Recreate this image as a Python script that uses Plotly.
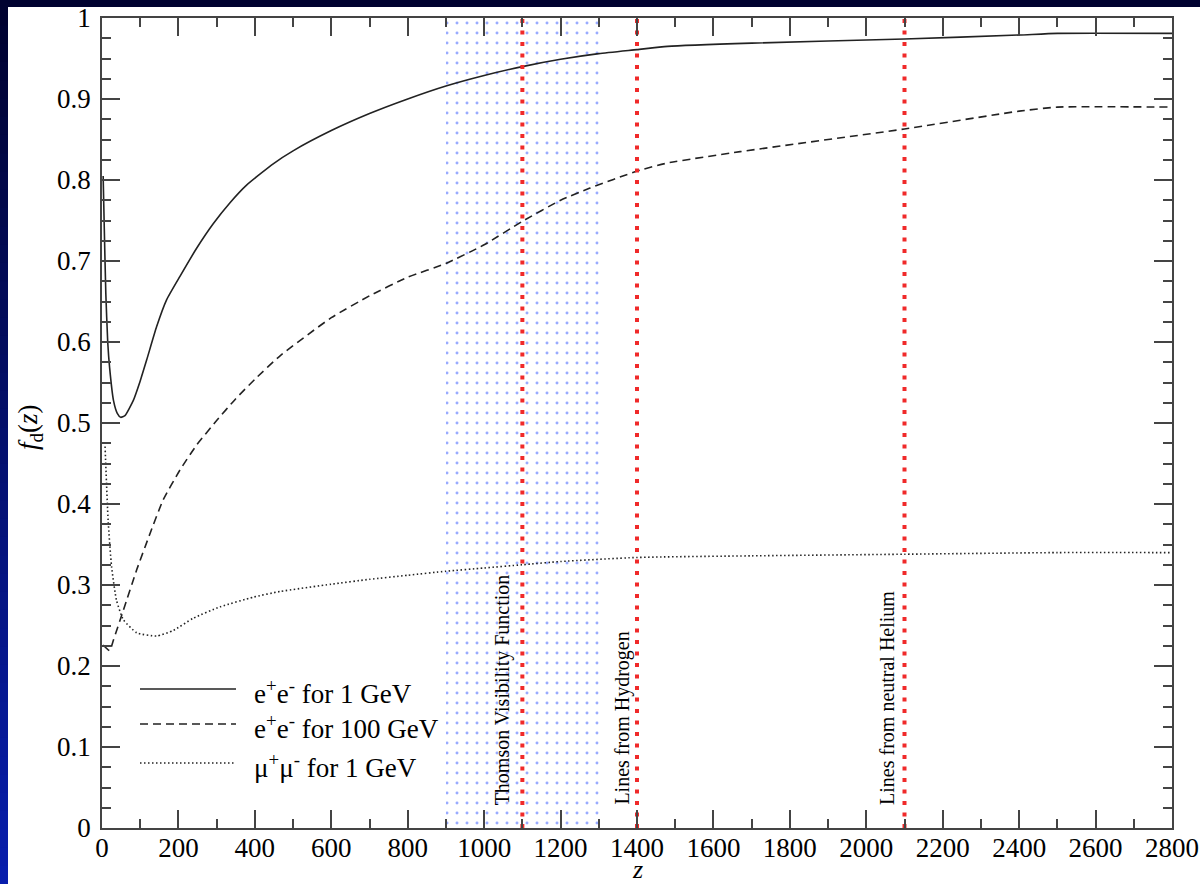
import plotly.graph_objects as go

# ---------------- data ----------------
z_ee1 = [3, 6, 10, 15, 20, 30, 40, 49, 60, 82, 100, 117, 143, 169, 204, 248, 291, 335, 379, 448,
         500, 600, 700, 800, 900, 1000, 1100, 1200, 1300, 1400, 1480, 1700, 2100, 2400, 2500, 2800]
f_ee1 = [0.805, 0.74, 0.66, 0.60, 0.568, 0.528, 0.512, 0.507, 0.509, 0.528, 0.552, 0.578, 0.619, 0.652,
         0.681, 0.716, 0.746, 0.772, 0.794, 0.820, 0.836, 0.861, 0.882, 0.900, 0.916, 0.929, 0.940,
         0.949, 0.956, 0.961, 0.965, 0.969, 0.974, 0.979, 0.981, 0.981]

z_ee100 = [3, 20, 30, 56, 91, 126, 160, 204, 248, 300, 350, 400, 466, 600, 700, 800, 900, 1000, 1100,
           1200, 1277, 1400, 1480, 1670, 2100, 2400, 2500, 2800]
f_ee100 = [0.226, 0.219, 0.232, 0.269, 0.319, 0.364, 0.405, 0.442, 0.473, 0.503, 0.530, 0.554, 0.583,
           0.630, 0.657, 0.680, 0.697, 0.720, 0.749, 0.775, 0.790, 0.811, 0.821, 0.835, 0.863, 0.885,
           0.890, 0.890]

z_mm1 = [8, 16, 25, 38, 56, 91, 143, 187, 239, 309, 396, 466, 600, 700, 800, 900, 1000, 1100, 1200,
         1400, 1700, 2100, 2500, 2800]
f_mm1 = [0.471, 0.380, 0.323, 0.281, 0.257, 0.241, 0.237, 0.244, 0.259, 0.273, 0.285, 0.292, 0.301,
         0.307, 0.312, 0.317, 0.321, 0.325, 0.329, 0.334, 0.336, 0.338, 0.340, 0.340]

series_names = ["e<sup>+</sup>e<sup>-</sup> for 1 GeV",
                "e<sup>+</sup>e<sup>-</sup> for 100 GeV",
                "\u03bc<sup>+</sup>\u03bc<sup>-</sup> for 1 GeV"]

thomson_band = [900, 1300]
line_z = [1100, 1400, 2100]
line_labels = ["Thomson Visibility Function", "Lines from Hydrogen", "Lines from neutral Helium"]
label_z = [1049, 1361, 2054]

x_ticks = list(range(0, 2801, 200))
y_ticks = [0, 0.1, 0.2, 0.3, 0.4, 0.5, 0.6, 0.7, 0.8, 0.9, 1]
y_tick_text = ["0", "0.1", "0.2", "0.3", "0.4", "0.5", "0.6", "0.7", "0.8", "0.9", "1"]

# ---------------- figure ----------------
W, H = 1200, 884
ML, MR, MT, MB = 102, 28, 18, 56
PW, PH = W - ML - MR, H - MT - MB


def px2x(px):
    return (px - ML) / PW


def py2y(py):
    return (H - MB - py) / PH


FONT = "Liberation Serif"
AX = "#444444"
CURVE = "#222222"
RED = "#f02a2a"

fig = go.Figure()

# Thomson visibility band (dotted blue pattern)
fig.add_trace(go.Scatter(
    x=[thomson_band[0], thomson_band[1], thomson_band[1], thomson_band[0], thomson_band[0]],
    y=[0, 0, 1, 1, 0],
    mode="lines", line=dict(width=0), fill="toself",
    fillcolor="rgba(255,255,255,0)",
    fillpattern=dict(shape=".", fgcolor="#3358ff", bgcolor="rgba(255,255,255,0)",
                     size=10, solidity=0.07),
    hoverinfo="skip", showlegend=False))

styles = [dict(dash="solid"), dict(dash="8px,5px"), dict(dash="1.5px,2.5px")]
for zz, ff, st in zip([z_ee1, z_ee100, z_mm1], [f_ee1, f_ee100, f_mm1], styles):
    fig.add_trace(go.Scatter(x=zz, y=ff, mode="lines",
                             line=dict(color=CURVE, width=1.6, dash=st["dash"],
                                       shape="spline", smoothing=0.5),
                             showlegend=False, hoverinfo="skip"))

for lz in line_z:
    fig.add_trace(go.Scatter(x=[lz, lz], y=[0, 1], mode="lines",
                             line=dict(color=RED, width=4, dash="4px,7.5px"),
                             showlegend=False, hoverinfo="skip"))

shapes = []
# dark blue frame: top strip and left gradient strip
n = 48
c0 = (0, 2, 48)
c1 = (8, 30, 172)
for i in range(n):
    t = i / (n - 1)
    col = "rgb(%d,%d,%d)" % tuple(round(a + (b - a) * t) for a, b in zip(c0, c1))
    y0 = 7 + (H - 7) * i / n
    y1 = 7 + (H - 7) * (i + 1) / n + 1
    shapes.append(dict(type="rect", xref="paper", yref="paper",
                       x0=px2x(0), x1=px2x(8), y0=py2y(y1), y1=py2y(y0),
                       fillcolor=col, line=dict(width=0), layer="above"))
shapes.append(dict(type="rect", xref="paper", yref="paper",
                   x0=px2x(0), x1=px2x(W), y0=py2y(7), y1=py2y(0),
                   fillcolor="rgb(0,2,48)", line=dict(width=0), layer="above"))

# manual legend
leg_rows = [689, 724, 763]
for row, st in zip(leg_rows, styles):
    shapes.append(dict(type="line", xref="paper", yref="paper",
                       x0=px2x(140), x1=px2x(236), y0=py2y(row), y1=py2y(row),
                       line=dict(color=CURVE, width=1.6, dash=st["dash"])))

annotations = []
for row, name in zip(leg_rows, series_names):
    annotations.append(dict(xref="paper", yref="paper", x=px2x(252), y=py2y(row + 3),
                            text=name, showarrow=False, xanchor="left", yanchor="middle",
                            font=dict(family=FONT, size=27, color="black")))

for lz, lab in zip(label_z, line_labels):
    annotations.append(dict(xref="x", yref="paper", x=lz, y=py2y(807), text=lab,
                            textangle=-90, showarrow=False, xanchor="center", yanchor="bottom",
                            font=dict(family=FONT, size=20, color="black")))

annotations.append(dict(xref="paper", yref="paper", x=px2x(30), y=py2y(428),
                        text="<i>f</i><sub>d</sub>(<i>z</i>)", textangle=-90, showarrow=False,
                        xanchor="center", yanchor="middle",
                        font=dict(family=FONT, size=27, color="black")))
annotations.append(dict(xref="paper", yref="paper", x=px2x(637), y=py2y(869),
                        text="<i>z</i>", showarrow=False, xanchor="center", yanchor="middle",
                        font=dict(family=FONT, size=26, color="black")))

fig.update_layout(
    width=W, height=H,
    margin=dict(l=ML, r=MR, t=MT, b=MB, pad=0, autoexpand=False),
    paper_bgcolor="white", plot_bgcolor="white",
    showlegend=False,
    shapes=shapes, annotations=annotations,
    font=dict(family=FONT, color="black"),
)
fig.update_xaxes(range=[0, 2800], tickvals=x_ticks, ticks="inside", ticklen=18, tickwidth=1.5,
                 tickcolor=AX, showline=True, linecolor=AX, linewidth=1.5, mirror="allticks",
                 showgrid=False, zeroline=False, ticklabelstandoff=-5, automargin=False,
                 tickfont=dict(family=FONT, size=27, color="black"),
                 minor=dict(dtick=100, tick0=0, ticks="inside", ticklen=9, tickwidth=1.5,
                            tickcolor=AX, showgrid=False))
fig.update_yaxes(range=[0, 1], tickvals=y_ticks, ticktext=y_tick_text, ticks="inside", ticklen=18,
                 tickwidth=1.5, tickcolor=AX, showline=True, linecolor=AX, linewidth=1.5,
                 mirror="allticks", showgrid=False, zeroline=False, ticklabelstandoff=4,
                 automargin=False,
                 tickfont=dict(family=FONT, size=27, color="black"),
                 minor=dict(dtick=0.025, tick0=0, ticks="inside", ticklen=9, tickwidth=1.5,
                            tickcolor=AX, showgrid=False))

fig.write_html("out.html")
